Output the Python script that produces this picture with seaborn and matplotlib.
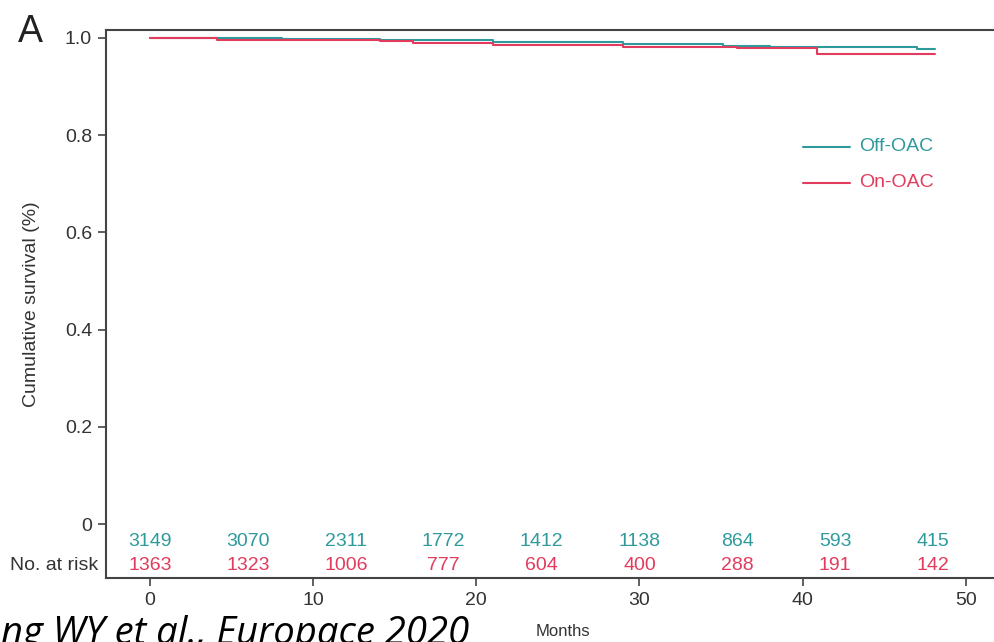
import numpy as np
import pandas as pd
import matplotlib
matplotlib.use("Agg")
import matplotlib.pyplot as plt
import seaborn as sns

# Kaplan-Meier step data (time in months, cumulative survival after each step)
off_times = [0, 2.0, 8.1, 14.1, 21.0, 29.0, 35.1, 38.0, 47.0, 48.1]
off_surv = [1.000, 0.9986, 0.9970, 0.9945, 0.9920, 0.9880, 0.9835, 0.9810, 0.9774, 0.9774]
on_times = [0, 2.0, 4.1, 14.1, 16.1, 21.0, 29.0, 36.0, 40.9, 48.1]
on_surv = [1.000, 0.9986, 0.9959, 0.9928, 0.9890, 0.9856, 0.9820, 0.9788, 0.9670, 0.9670]

groups = ["Off-OAC", "On-OAC"]
colors = {"Off-OAC": "#2f9a9c", "On-OAC": "#e23b5d"}

# Number at risk table
risk_months = [0, 6, 12, 18, 24, 30, 36, 42, 48]
risk_off = [3149, 3070, 2311, 1772, 1412, 1138, 864, 593, 415]
risk_on = [1363, 1323, 1006, 777, 604, 400, 288, 191, 142]

x_ticks = [0, 10, 20, 30, 40, 50]
y_ticks = [0, 0.2, 0.4, 0.6, 0.8, 1.0]
y_tick_labels = ["0", "0.2", "0.4", "0.6", "0.8", "1.0"]

df = pd.concat([
    pd.DataFrame({"month": off_times, "surv": off_surv, "group": "Off-OAC"}),
    pd.DataFrame({"month": on_times, "surv": on_surv, "group": "On-OAC"}),
], ignore_index=True)

sns.set_theme(style="white")
plt.rcParams["font.family"] = ["Liberation Sans", "DejaVu Sans"]

W, H = 995, 642
fig = plt.figure(figsize=(W / 100, H / 100), dpi=100)
ax = fig.add_axes([106 / W, 1 - 578 / H, (W - 106) / W, (578 - 30) / H])

sns.lineplot(data=df, x="month", y="surv", hue="group", hue_order=groups,
             palette=colors, drawstyle="steps-post", estimator=None,
             linewidth=1.5, ax=ax, legend=False)

ax.set_xlim(-2.7, 51.8)
ax.set_ylim(-0.111, 1.016)
ax.set_xticks(x_ticks)
ax.set_yticks(y_ticks)
ax.set_yticklabels(y_tick_labels)
ax.tick_params(axis="both", direction="out", length=6, width=1.2,
               color="#444444", labelsize=14, labelcolor="#333333",
               left=True, bottom=True, pad=4)
ax.set_xlabel("")
ax.set_ylabel("Cumulative survival (%)", fontsize=14, color="#333333", labelpad=18)
for side in ["left", "top", "bottom"]:
    ax.spines[side].set_color("#444444")
    ax.spines[side].set_linewidth(1.5)
ax.spines["right"].set_visible(False)

# Number-at-risk rows inside the plot area
for m, n_off, n_on in zip(risk_months, risk_off, risk_on):
    ax.text(m, -0.035, str(n_off), color=colors["Off-OAC"], fontsize=14,
            ha="center", va="center")
    ax.text(m, -0.086, str(n_on), color=colors["On-OAC"], fontsize=14,
            ha="center", va="center")
ax.text(-3.2, -0.086, "No. at risk", color="#333333", fontsize=14,
        ha="right", va="center", clip_on=False)

# Legend drawn as lines with colored labels
for yv, g in [(0.776, "Off-OAC"), (0.702, "On-OAC")]:
    ax.plot([40.0, 42.9], [yv, yv], color=colors[g], linewidth=1.5)
    ax.text(43.5, yv, g, color=colors[g], fontsize=14, ha="left", va="center")

fig.text(30 / W, 1 - 42 / H, "A", fontsize=27, ha="center", va="baseline",
         color="#222222")
fig.text(563 / W, 1 - 632 / H, "Months", fontsize=12, ha="center",
         va="center", color="#333333")
fig.text(1 / W, 1 - 644 / H, "ng WY et al., Europace 2020", fontsize=27.5,
         style="italic", family=["Open Sans", "DejaVu Sans"],
         ha="left", va="baseline", color="black")

fig.savefig("out.png", dpi=100)
